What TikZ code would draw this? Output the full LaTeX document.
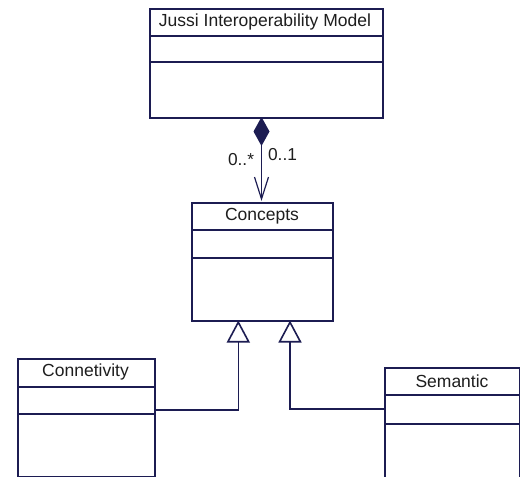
\documentclass[tikz,border=0pt]{standalone}
\usepackage{fontspec}
\setmainfont{Liberation Sans}
\usetikzlibrary{arrows.meta}
\definecolor{umlline}{HTML}{1C1C52}
\definecolor{umltext}{HTML}{1E1E1E}
\begin{document}
\begin{tikzpicture}[x=1pt,y=-1pt,
  classbox/.style={draw=umlline,line width=1.6pt,rectangle,anchor=north west,inner sep=0pt,fill=white},
  sepline/.style={draw=umlline,line width=1.6pt},
  title/.style={text=umltext,font=\fontsize{17.5}{19}\selectfont,inner sep=0pt},
  mult/.style={text=umltext,font=\fontsize{17.3}{19}\selectfont,inner sep=0pt},
  conn/.style={draw=umlline,line width=1.6pt},
  gen/.style={conn,-{Triangle[open,length=22pt,width=23pt,line width=1.6pt]}},
  comp/.style={conn,{Diamond[length=29pt,width=16pt]}-{Straight Barb[length=22pt,width=14pt,line width=1.2pt]}}]
\useasboundingbox (0,0) rectangle (520,477);
% Top class
\node[classbox,minimum width=233pt,minimum height=109pt] (jim) at (149,8) {};
\draw[sepline] (149,36) -- (382,36);
\draw[sepline] (149,62) -- (382,62);
\node[title] (jimt) at (265,22) {Jussi Interoperability Model};
% Concepts
\node[classbox,minimum width=141pt,minimum height=118pt] (con) at (191,202) {};
\draw[sepline] (191,230) -- (332,230);
\draw[sepline] (191,258) -- (332,258);
\node[title] (cont) at (262,216) {Concepts};
% Connetivity
\node[classbox,minimum width=137pt,minimum height=118pt] (cnt) at (17,358) {};
\draw[sepline] (17,387) -- (154,387);
\draw[sepline] (17,414) -- (154,414);
\node[title] (cntt) at (85.5,372) {Connetivity};
% Semantic
\node[classbox,minimum width=135pt,minimum height=111pt] (sem) at (384,367) {};
\draw[sepline] (384,395) -- (519,395);
\draw[sepline] (384,424) -- (519,424);
\node[title] (semt) at (452,381) {Semantic};
% Composition
\coordinate (ctop) at (261.5,117);
\coordinate (cbot) at (261.5,201);
\draw[comp] (ctop) -- (cbot);
\node[mult] (m1) at (241,160) {0..*};
\node[mult] (m2) at (282.5,155) {0..1};
% Generalizations
\coordinate (c1) at (154,410);
\coordinate (g1) at (238.3,320.5);
\coordinate (c2) at (384,409);
\coordinate (g2) at (290,320.5);
\draw[gen] (c1) -| (g1);
\draw[gen] (c2) -| (g2);
\end{tikzpicture}
\end{document}
